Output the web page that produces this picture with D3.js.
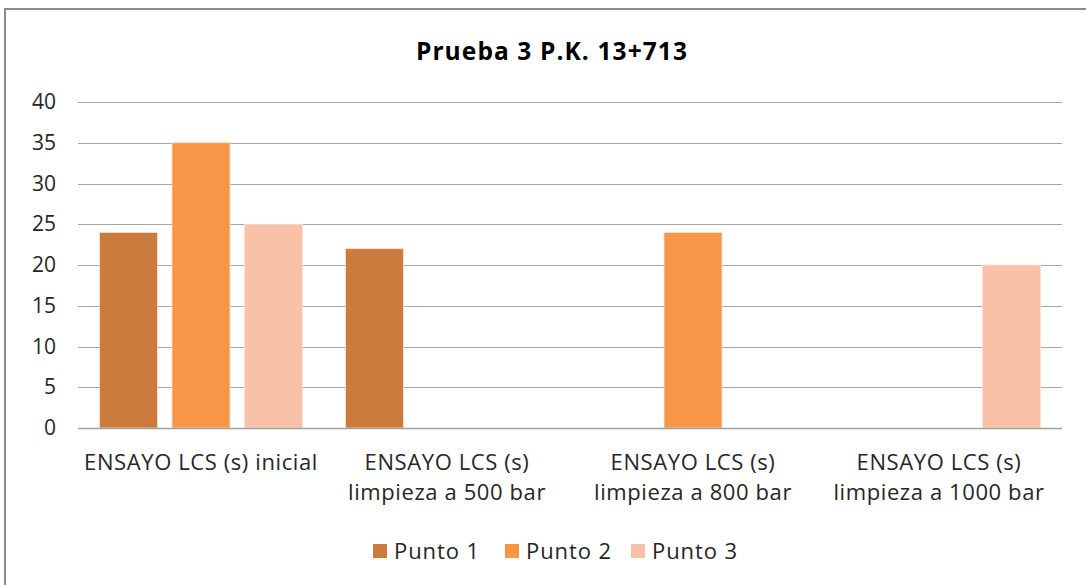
<!DOCTYPE html>
<html>
<head>
<meta charset="utf-8">
<script src="https://cdn.jsdelivr.net/npm/d3@7"></script>
<style>
  body { margin: 0; background: #fff; }
  text { font-family: 'Open Sans', 'Liberation Sans', sans-serif; fill: #262626; }
</style>
</head>
<body>
<svg width="1086" height="585"></svg>
<script>
// data
var categories = [
  ['ENSAYO LCS (s) inicial'],
  ['ENSAYO LCS (s)', 'limpieza a 500 bar'],
  ['ENSAYO LCS (s)', 'limpieza a 800 bar'],
  ['ENSAYO LCS (s)', 'limpieza a 1000 bar']
];
var series = ['Punto 1', 'Punto 2', 'Punto 3'];
var punto1 = [24, 22, null, null];
var punto2 = [35, null, 24, null];
var punto3 = [25, null, null, 20];
var yTicks = [0, 5, 10, 15, 20, 25, 30, 35, 40];
var colors = ['#CB7B3B', '#F79646', '#F9C2A8'];

var values = [punto1, punto2, punto3];

var svg = d3.select('svg');
var plot = {l: 78, r: 1062, t: 102, b: 428};

// outer frame
svg.append('rect')
    .attr('x', 5).attr('y', 9)
    .attr('width', 1100).attr('height', 600)
    .style('fill', 'white')
    .style('stroke', '#8c8c8c')
    .style('stroke-width', '2px');

// title
svg.append('text')
    .attr('text-anchor', 'middle')
    .attr('x', 552).attr('y', 60)
    .style('font-family', "'Open Sans', sans-serif")
    .style('font-weight', 'bold')
    .style('font-size', '24.5px')
    .style('letter-spacing', '1.1px')
    .style('fill', '#000')
    .text('Prueba 3 P.K. 13+713');

var y = d3.scaleLinear().domain([0, 40]).range([plot.b, plot.t]);
var x0 = d3.scaleBand().domain(d3.range(categories.length)).range([plot.l, plot.r]);
var x1 = d3.scaleBand().domain(d3.range(series.length))
    .range([21.5, x0.bandwidth() - 21.5]).paddingInner(0.2);

// gridlines
svg.append('g').selectAll('line')
    .data(yTicks.filter(function(d){ return d > 0; }))
    .enter().append('line')
    .attr('x1', plot.l).attr('x2', plot.r)
    .attr('y1', function(d){ return Math.round(y(d)) + 0.5; })
    .attr('y2', function(d){ return Math.round(y(d)) + 0.5; })
    .style('stroke', '#a6a6a6')
    .style('stroke-width', '1px');

// y axis labels
var yAxis = svg.append('g')
    .attr('transform', 'translate(' + (plot.l - 22) + ',0)')
    .call(d3.axisLeft(y).tickValues(yTicks).tickSize(0).tickPadding(0));
yAxis.select('.domain').remove();
yAxis.selectAll('text')
    .style('font-family', "'Open Sans', sans-serif")
    .style('font-size', '21px')
    .style('fill', '#262626');

// bars
series.forEach(function(s, i){
    svg.append('g').selectAll('rect')
        .data(values[i].map(function(v, j){ return {v: v, c: j}; }).filter(function(d){ return d.v !== null; }))
        .enter().append('rect')
        .attr('x', function(d){ return x0(d.c) + x1(i); })
        .attr('width', x1.bandwidth())
        .attr('y', function(d){ return y(d.v); })
        .attr('height', function(d){ return y(0) - y(d.v); })
        .style('fill', colors[i])
        .style('stroke', '#fbe3d6')
        .style('stroke-width', '0.8px');
});

// baseline
svg.append('line')
    .attr('x1', plot.l).attr('x2', plot.r)
    .attr('y1', plot.b + 0.5).attr('y2', plot.b + 0.5)
    .style('stroke', '#a0a0a0')
    .style('stroke-width', '1.5px');

// category labels
var catLabels = svg.append('g').selectAll('text')
    .data(categories)
    .enter().append('text')
    .attr('text-anchor', 'middle')
    .attr('x', function(d, i){ return x0(i) + x0.bandwidth() / 2; })
    .attr('y', 470)
    .style('font-size', '22px')
    .style('letter-spacing', '0.6px');
catLabels.selectAll('tspan')
    .data(function(d){ return d; })
    .enter().append('tspan')
    .attr('x', function(){ return d3.select(this.parentNode).attr('x'); })
    .attr('dy', function(d, i){ return i === 0 ? 0 : 30; })
    .text(function(d){ return d; });

// legend
var legendX = [373, 505, 631];
var legend = svg.append('g').selectAll('g')
    .data(series)
    .enter().append('g')
    .attr('transform', function(d, i){ return 'translate(' + legendX[i] + ',544)'; });
legend.append('rect')
    .attr('width', 14).attr('height', 14)
    .style('fill', function(d, i){ return colors[i]; });
legend.append('text')
    .attr('x', 21).attr('y', 15)
    .style('font-size', '22px')
    .style('letter-spacing', '0.9px')
    .text(function(d){ return d; });
</script>
</body>
</html>
